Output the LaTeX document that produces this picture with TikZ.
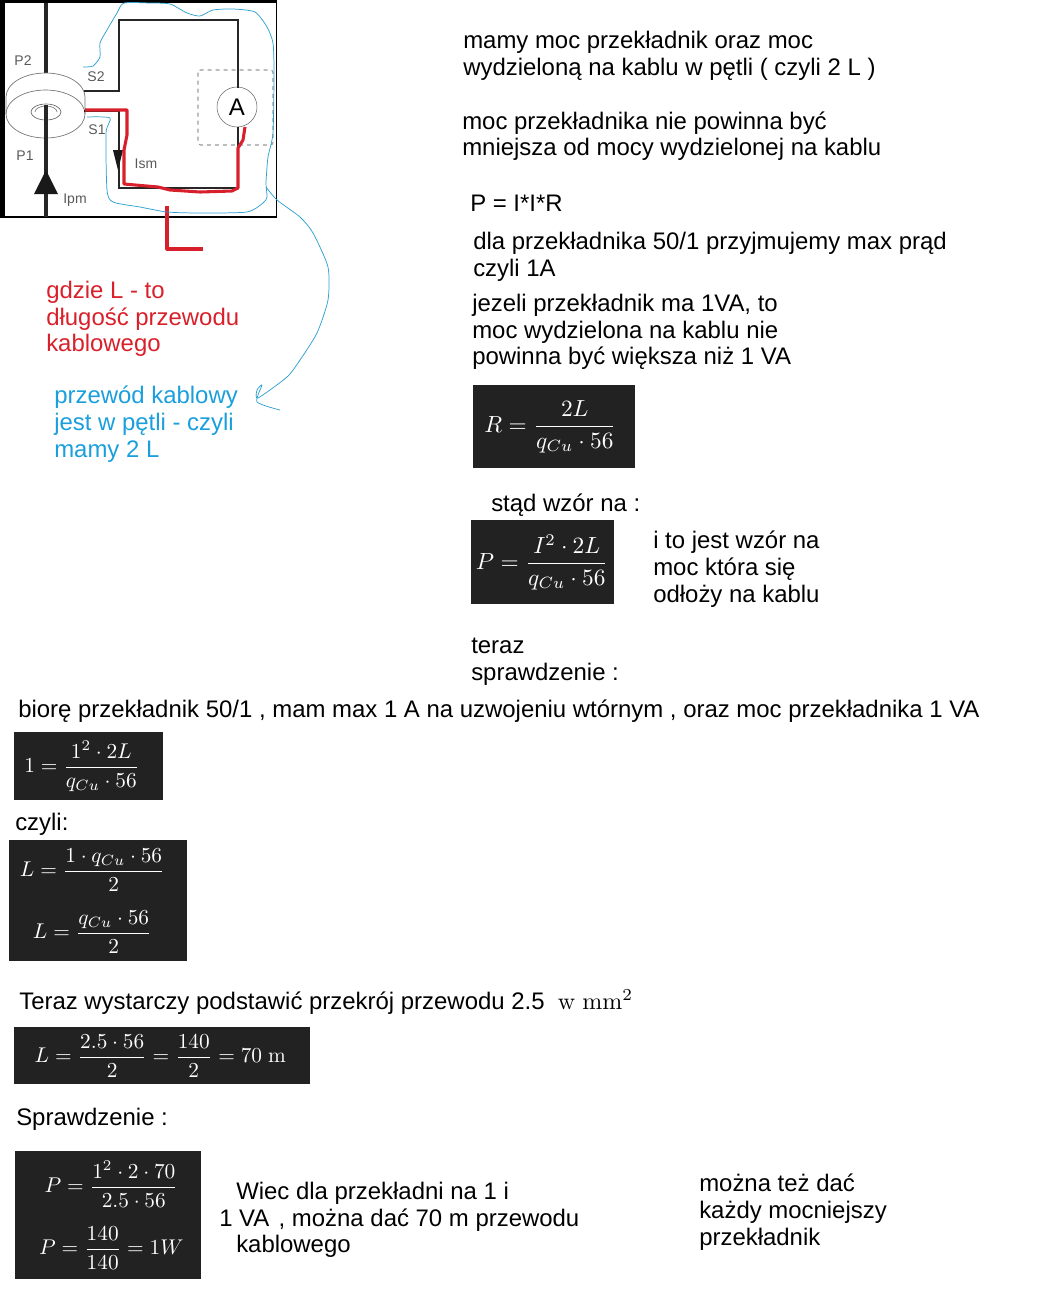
\documentclass[tikz,border=0pt]{standalone}
\usepackage[no-math]{fontspec}
\usepackage{amsmath}
\usepackage{graphicx}
\setmainfont{Liberation Sans}
\usetikzlibrary{calc}
\definecolor{boxdark}{HTML}{222222}
\definecolor{redtxt}{HTML}{D9202A}
\definecolor{bluetxt}{HTML}{1A9FDC}
\definecolor{sketchblue}{HTML}{2E9FD0}
\definecolor{linered}{HTML}{D8202C}
\newcommand{\mathbox}[3]{\kern#1\scalebox{#2}{\fontsize{10}{12}\selectfont$#3$}}

\begin{document}
\begin{tikzpicture}[%
    x=0.75pt,y=-0.75pt,
    note/.style={
      anchor=west,
      align=left,
      inner sep=0,
      font=\fontsize{17.95}{20}\selectfont
    },
    formula/.style={
      anchor=north west,
      fill=boxdark,
      text=white,
      inner sep=0,
      align=center
    },
    wire/.style={draw=black!85,line width=1.5pt},
    tag/.style={inner sep=0,text=black!65,font=\fontsize{10.5}{12}\selectfont},
    redpen/.style={draw=linered,line width=2.3pt,line join=round},
    bluepen/.style={draw=sketchblue,line width=0.55pt,line join=round}
    ]
    \useasboundingbox (0,0) rectangle (1058,1293);

    % picture frame
    \draw[black,line width=0.8pt] (0,1) -- (276.5,1) -- (276.5,217) -- (0,217);
    \fill[black] (0,0) rectangle (5,217);
    \fill[black] (0,0) rectangle (276.5,3);

    % primary wire and core
    \draw[black!85,line width=2.4pt] (46,3) -- (46,73);
    \draw[black!55,fill=white,line width=0.5pt] (6,97) arc[start angle=180,end angle=360,x radius=39.5,y radius=24]
        -- (85,114) arc[start angle=0,end angle=180,x radius=39.5,y radius=24] -- cycle;
    \draw[black!55,line width=0.5pt] (6,114) arc[start angle=180,end angle=360,x radius=39.5,y radius=24];
    \draw[black!60,line width=0.5pt] (46,112) ellipse[x radius=15,y radius=8];
    \draw[black!50,line width=0.5pt] (35,112) arc[start angle=180,end angle=360,x radius=11,y radius=6];
    \draw[black!85,line width=2.4pt] (46,105) -- (46,217);
    \fill[black!90] (46,170) -- (58,194) -- (34,194) -- cycle;

    % secondary loop
    \node[circle,draw=black!60,fill=white,minimum size=40*0.75pt,inner sep=0,font=\fontsize{18}{20}\selectfont] at (237,107) (ammeter) {A};
    \draw[wire] (84,91) -- (119,91) -- (119,20) -- (238,20) -- (238,88);
    \draw[wire] (238,127) -- (238,188) -- (119,188) -- (119,111) -- (84,111);
    \draw[black!40,dashed,line width=0.8pt,rounded corners=2pt] (198,70) rectangle (273,145);
    \fill[black!90] (118,170) -- (113,150) -- (123,150) -- cycle;

    \node[tag] at (23,61) (p2) {P2};
    \node[tag] at (96,77) (s2) {S2};
    \node[tag] at (97,130) (s1) {S1};
    \node[tag] at (25,156) (p1) {P1};
    \node[tag] at (146,164) (ism) {Ism};
    \node[tag] at (75,200) (ipm) {Ipm};

    % red marking
    \draw[redpen] (85,110) -- (127,110) -- (127,135) -- (124,150) -- (124,184) -- (158,187) -- (170,190) -- (200,192) -- (232,191) -- (238,188) -- (238,148) -- (243,140) -- (245,127);
    \draw[redpen] (167,206) -- (167,249) -- (203,249);

    % blue sketch
    \draw[bluepen] plot[smooth,tension=0.4] coordinates {(83,67) (93,66) (100,57) (100,43) (107,30) (117,13) (124,3) (150,3) (170,4) (187,13) (200,16) (213,10) (233,9) (255,12) (267,27) (273,43) (274,73) (273,133) (268,157) (266,183) (267,197) (263,203) (247,212) (200,213) (167,212) (140,207) (113,202) (107,190) (106,133) (110,118) (87,117)};
    \draw[bluepen] plot[smooth,tension=0.4] coordinates {(266,187) (277,200) (300,217) (313,233) (328,267) (328,300) (317,333) (300,360) (287,377) (258,398) (257,390) (262,385) (257,402) (280,410)};

    % right column
    \node[note] at (463,56) (intro) {mamy moc przekładnik oraz moc\\wydzieloną na kablu w pętli ( czyli 2 L )};
    \node[note] at (462,136) (warunek) {moc przekładnika nie powinna być\\mniejsza od mocy wydzielonej na kablu};
    \node[note] at (470,203) (wzorp) {P = I*I*R};
    \node[note] at (473,257) (prad) {dla przekładnika 50/1 przyjmujemy max prąd\\czyli 1A};
    \node[note] at (472,332) (jezeli) {jezeli przekładnik ma 1VA, to\\moc wydzielona na kablu nie\\powinna być większa niż 1 VA};
    \node[formula,minimum width=162*0.75pt,minimum height=83*0.75pt] at (473,385) (boxr) {\mathbox{-6pt}{1.75}{R=\dfrac{2L}{q_{Cu}\cdot 56}}};
    \node[note] at (491,505) (stad) {stąd wzór na :};
    \node[formula,minimum width=143*0.75pt,minimum height=84*0.75pt] at (471,520) (boxp) {\raisebox{2pt}{\mathbox{-1pt}{1.75}{P=\dfrac{I^2\cdot 2L}{q_{Cu}\cdot 56}}}};
    \node[note] at (653,569) (moc) {i to jest wzór na\\moc która się\\odłoży na kablu};
    \node[note] at (471,662) (teraz) {teraz\\sprawdzenie :};

    % left column
    \node[note,text=redtxt] at (46,319) (gdzie) {gdzie L - to\\długość przewodu\\kablowego};
    \node[note,text=bluetxt] at (54,424) (petla) {przewód kablowy\\jest w pętli - czyli\\mamy 2 L};

    % bottom part
    \node[note] at (18,711) (biore) {biorę przekładnik 50/1 , mam max 1 A na uzwojeniu wtórnym , oraz moc przekładnika 1 VA};
    \node[formula,minimum width=149*0.75pt,minimum height=68*0.75pt] at (14,732) (boxa) {\mathbox{-10.5pt}{1.6}{1=\dfrac{1^2\cdot 2L}{q_{Cu}\cdot 56}}};
    \node[note] at (15,824) (czyli) {czyli:};
    \node[formula,minimum width=178*0.75pt,minimum height=121*0.75pt] at (9,840) (boxb) {\raisebox{-3pt}{\mathbox{-9pt}{1.6}{\begin{gathered}L=\dfrac{1\cdot q_{Cu}\cdot 56}{2}\\[5pt] L=\dfrac{q_{Cu}\cdot 56}{2}\end{gathered}}}};
    \node[note] at (19,1002) (podstaw) {Teraz wystarczy podstawić przekrój przewodu 2.5\ \ \mathbox{0pt}{1.8}{\mathrm{w\ mm}^2}};
    \node[formula,minimum width=296*0.75pt,minimum height=57*0.75pt] at (14,1027) (boxc) {\mathbox{-3pt}{1.6}{L=\dfrac{2.5\cdot 56}{2}=\dfrac{140}{2}=70\ \mathrm{m}}};
    \node[note] at (16,1119) (spraw) {Sprawdzenie :};
    \node[formula,minimum width=186*0.75pt,minimum height=128*0.75pt] at (15,1151) (boxd) {\raisebox{-2pt}{\mathbox{4.5pt}{1.6}{\begin{gathered}P=\dfrac{1^2\cdot 2\cdot 70}{2.5\cdot 56}\\[5pt] P=\dfrac{140}{140}=1W\end{gathered}}}};
    \node[note] at (219,1220) (wiec) {\hspace*{12.75pt}Wiec dla przekładni na 1 i\\1 VA\ \kern2pt, można dać 70 m przewodu\\\hspace*{12.75pt}kablowego};
    \node[note] at (699,1212) (mozna) {można też dać\\każdy mocniejszy\\przekładnik};
\end{tikzpicture}
\end{document}
